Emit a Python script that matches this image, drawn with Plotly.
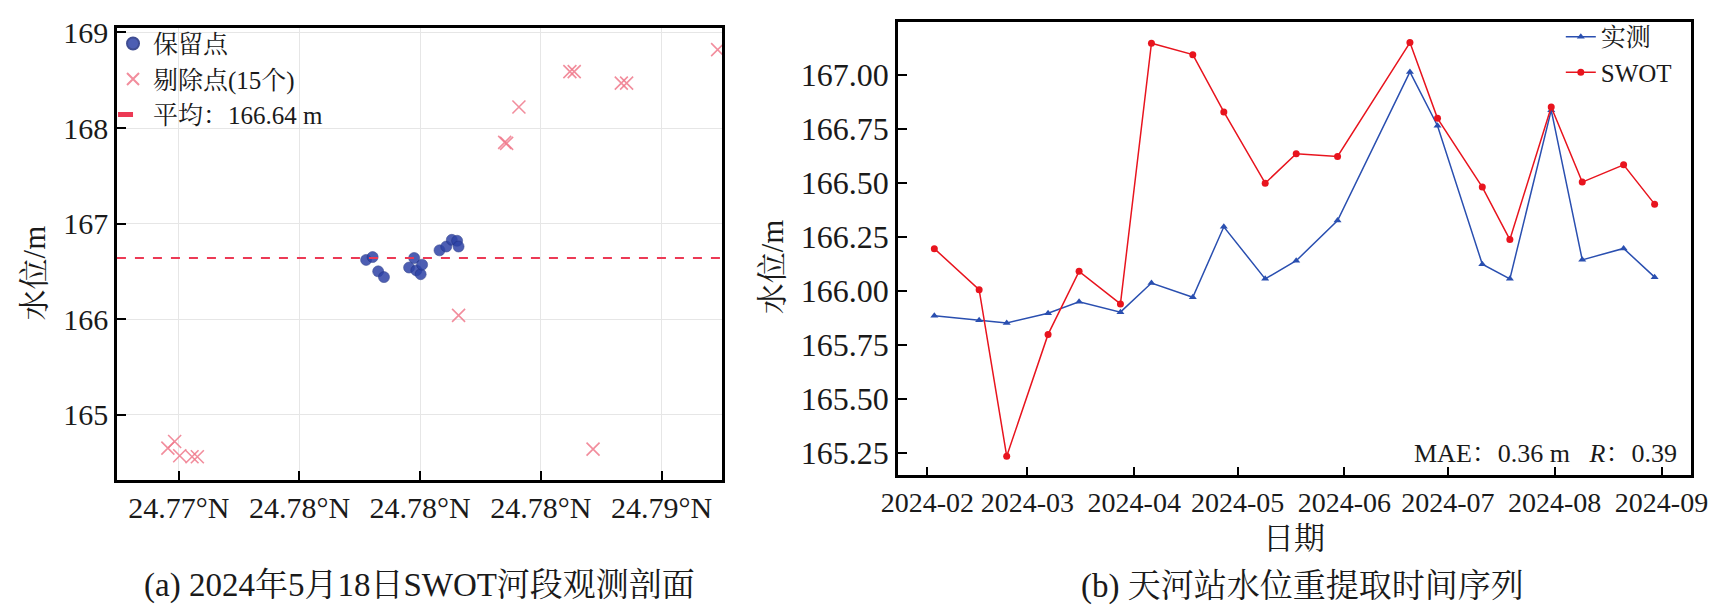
import plotly.graph_objects as go

# ---------------- Panel (a): SWOT reach profile, 2024-05-18 ----------------
kept_lat = [24.77776, 24.77803, 24.77826, 24.77850, 24.77954, 24.77975, 24.77984,
            24.78002, 24.78008, 24.78080, 24.78108, 24.78131, 24.78153, 24.78159]
kept_wse = [166.62, 166.65, 166.50, 166.44, 166.54, 166.64, 166.51,
            166.47, 166.57, 166.72, 166.76, 166.83, 166.82, 166.76]
removed_lat = [24.76955, 24.76983, 24.77004, 24.77055, 24.77077, 24.78159, 24.78350,
               24.78358, 24.78409, 24.78620, 24.78638, 24.78716, 24.78833, 24.78855, 24.79232]
removed_wse = [164.65, 164.72, 164.57, 164.56, 164.56, 166.04, 167.85,
               167.84, 168.22, 168.59, 168.59, 164.64, 168.47, 168.47, 168.82]
mean_wse = 166.64
lat_ticks = [24.770, 24.775, 24.780, 24.785, 24.790]
lat_ticktext = ["24.77°N", "24.78°N", "24.78°N", "24.78°N", "24.79°N"]
wse_ticks = [165, 166, 167, 168, 169]

# ---------------- Panel (b): Tianhe station time series ----------------
dates = ["2024-02-03", "2024-02-16", "2024-02-24", "2024-03-07", "2024-03-16",
         "2024-03-28", "2024-04-06", "2024-04-18", "2024-04-27", "2024-05-09",
         "2024-05-18", "2024-05-30", "2024-06-20", "2024-06-28", "2024-07-11",
         "2024-07-19", "2024-07-31", "2024-08-09", "2024-08-21", "2024-08-30"]
gauge = [165.886, 165.866, 165.853, 165.898, 165.951,
         165.903, 166.038, 165.972, 166.298, 166.057,
         166.141, 166.327, 167.015, 166.766, 166.125,
         166.057, 166.838, 166.145, 166.198, 166.065]
swot = [166.197, 166.007, 165.236, 165.800, 166.092,
        165.941, 167.148, 167.095, 166.830, 166.500,
        166.636, 166.624, 167.151, 166.800, 166.482,
        166.239, 166.853, 166.505, 166.585, 166.403]
level_ticks = [165.25, 165.50, 165.75, 166.00, 166.25, 166.50, 166.75, 167.00]
stats_text = "MAE：0.36 m&nbsp;&nbsp;&nbsp;<i>R</i>：0.39"

FONT = "Liberation Serif, Times New Roman, Noto Serif CJK SC, Noto Sans CJK SC, serif"
W, H = 1734, 614


def px_x(p):
    return p / W


def px_y(p):
    return (H - p) / H


fig = go.Figure()

fig.add_trace(go.Scatter(
    x=kept_lat, y=kept_wse, mode="markers", name="保留点",
    marker=dict(symbol="circle", size=11, color="#2e43a6", opacity=0.85,
                line=dict(width=0.6, color="#1f2f80")),
    xaxis="x", yaxis="y", legend="legend"))
fig.add_trace(go.Scatter(
    x=removed_lat, y=removed_wse, mode="markers", name="剔除点(15个)",
    marker=dict(symbol="x-thin", size=13, color="#f07a8c", opacity=0.85,
                line=dict(width=1.6, color="#f07a8c")),
    xaxis="x", yaxis="y", legend="legend"))

fig.add_shape(type="line", xref="x domain", yref="y", x0=0, x1=1,
              y0=mean_wse, y1=mean_wse,
              line=dict(color="#ec3a55", width=2, dash="dash"),
              showlegend=True, name="平均：%.2f m" % mean_wse, legend="legend")

fig.add_trace(go.Scatter(
    x=dates, y=gauge, mode="lines+markers", name="实测",
    line=dict(color="#2a4fb0", width=1.5),
    marker=dict(symbol="triangle-up", size=7, color="#2a4fb0"),
    xaxis="x2", yaxis="y2", legend="legend2"))
fig.add_trace(go.Scatter(
    x=dates, y=swot, mode="lines+markers", name="SWOT",
    line=dict(color="#e8141e", width=1.5),
    marker=dict(symbol="circle", size=7, color="#e8141e"),
    xaxis="x2", yaxis="y2", legend="legend2"))


def axis_style(size):
    return dict(showline=True, linecolor="black", linewidth=2.5, mirror=True,
                ticks="inside", tickcolor="black", tickwidth=2, ticklen=9,
                tickfont=dict(family=FONT, size=size, color="#1a1a1a"),
                zeroline=False)


fig.update_layout(
    width=W, height=H, margin=dict(l=0, r=0, t=0, b=0),
    paper_bgcolor="white", plot_bgcolor="white",
    font=dict(family=FONT, color="#1a1a1a"),
    xaxis=dict(domain=[px_x(102), px_x(720)], range=[24.76744, 24.79252],
               tickvals=lat_ticks, ticktext=lat_ticktext,
               showgrid=True, gridcolor="#e6e6e6", gridwidth=1, anchor="y",
               **axis_style(30)),
    yaxis=dict(domain=[px_y(477), px_y(16)], range=[164.32, 169.05],
               tickvals=wse_ticks, showgrid=True, gridcolor="#e6e6e6", gridwidth=1,
               anchor="x", **axis_style(30)),
    xaxis2=dict(domain=[px_x(899), px_x(1708)],
                range=["2024-01-23 10:00", "2024-09-09 10:00"],
                type="date", tick0="2024-02-01", dtick="M1", tickformat="%Y-%m",
                showgrid=False, anchor="y2", **axis_style(28)),
    yaxis2=dict(domain=[px_y(472.7), px_y(10)], range=[165.147, 167.247],
                tickvals=level_ticks, tickformat=".2f", showgrid=False,
                anchor="x2", **axis_style(32)),
    legend=dict(x=px_x(98), y=px_y(9), xanchor="left", yanchor="top",
                bgcolor="rgba(255,255,255,0)", borderwidth=0,
                font=dict(family=FONT, size=25, color="#1a1a1a"),
                itemsizing="constant", tracegroupgap=0, itemwidth=30),
    legend2=dict(x=px_x(1694), y=px_y(2), xanchor="right", yanchor="top",
                 bgcolor="rgba(255,255,255,0)", borderwidth=0,
                 font=dict(family=FONT, size=25, color="#1a1a1a"),
                 itemwidth=30),
    showlegend=True,
)

annotations = [
    dict(text="水位/m", x=px_x(18), y=px_y(266), textangle=-90,
         font=dict(family=FONT, size=31)),
    dict(text="水位/m", x=px_x(772), y=px_y(260), textangle=-90,
         font=dict(family=FONT, size=31)),
    dict(text="日期", x=px_x(1303), y=px_y(537), font=dict(family=FONT, size=31)),
    dict(text="(a) 2024年5月18日SWOT河段观测剖面", x=px_x(411), y=px_y(585),
         font=dict(family=FONT, size=33)),
    dict(text="(b) 天河站水位重提取时间序列", x=px_x(1312), y=px_y(586),
         font=dict(family=FONT, size=33)),
    dict(text=stats_text, x=px_x(1696), y=px_y(450), xanchor="right",
         font=dict(family=FONT, size=26)),
]
for a in annotations:
    a.setdefault("xanchor", "center")
    a.update(xref="paper", yref="paper", yanchor="middle", showarrow=False)
    fig.add_annotation(**a)

fig.write_html("out.html", config={"displayModeBar": False},
               post_script="document.body.style.margin='0px';")
